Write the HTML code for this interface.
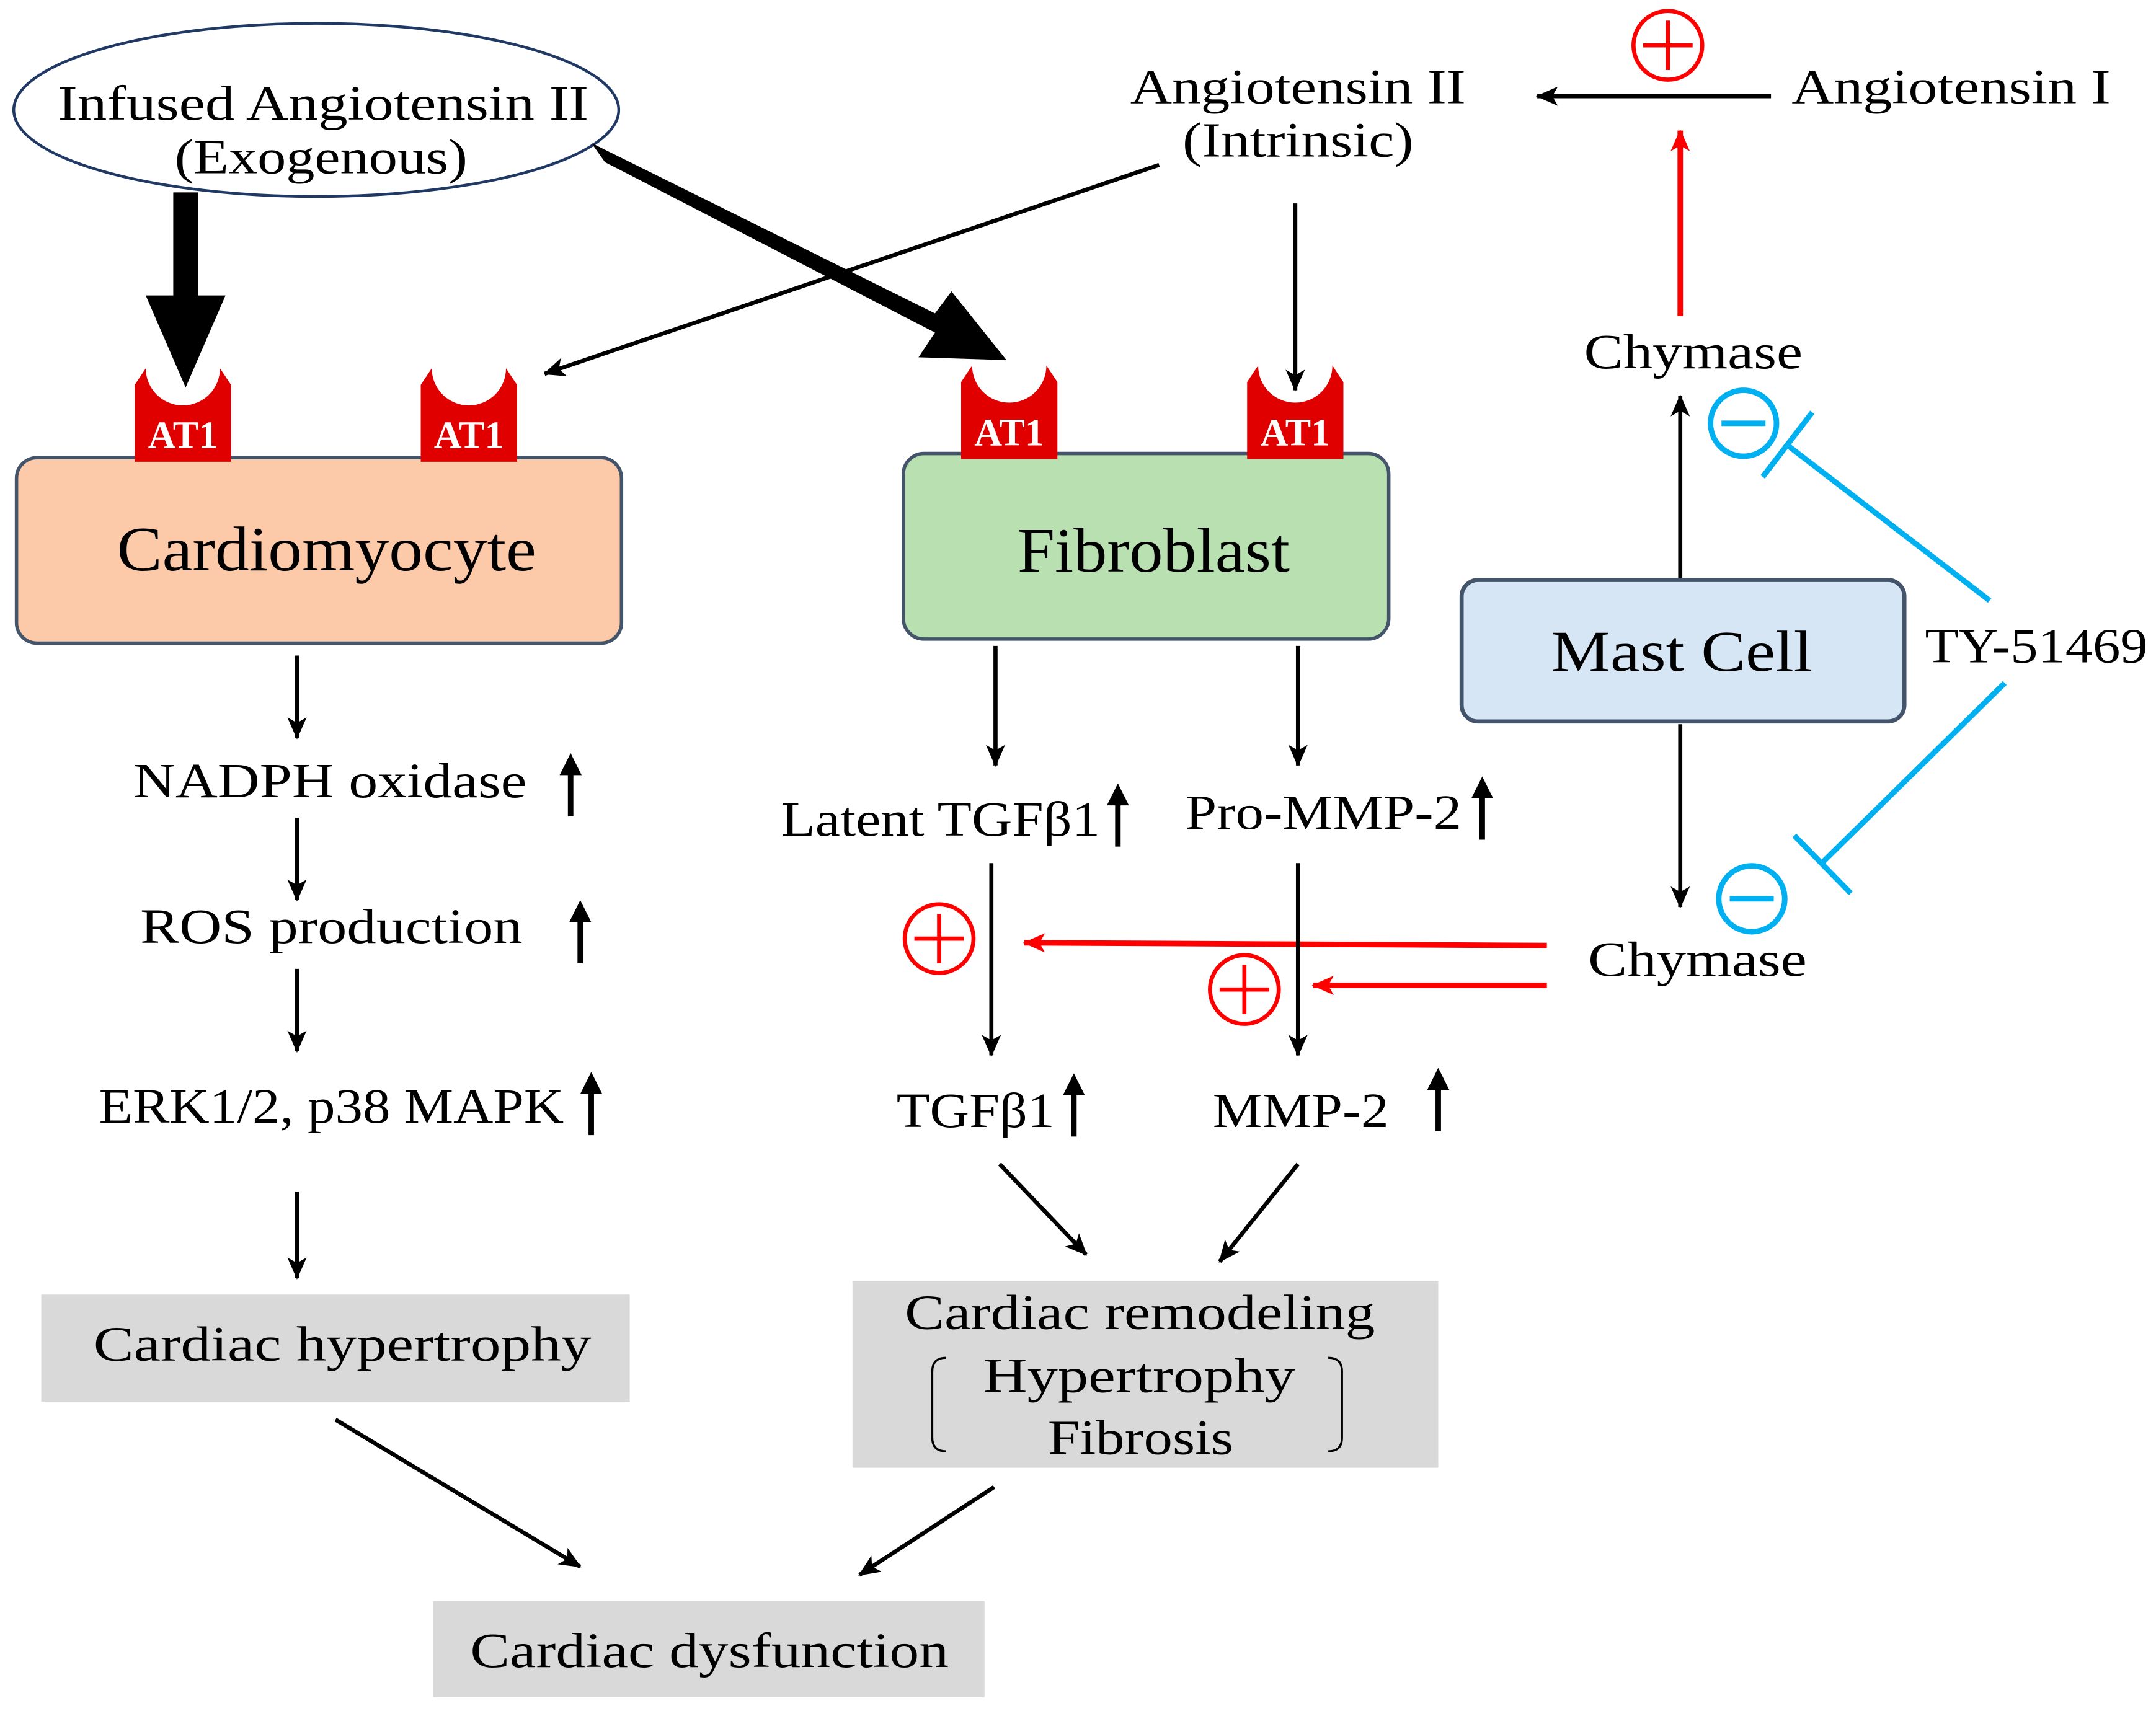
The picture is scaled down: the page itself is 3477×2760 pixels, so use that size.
<!DOCTYPE html>
<html><head><meta charset="utf-8"><style>
html,body{margin:0;padding:0;background:#fff;}
svg{display:block;}
text{font-family:"Liberation Serif",serif;fill:#000;}
</style></head><body>
<svg width="3477" height="2760" viewBox="0 0 1568 1245" preserveAspectRatio="none" xmlns="http://www.w3.org/2000/svg">
<defs>
<marker id="ahb" markerWidth="16" markerHeight="14" refX="15" refY="7" orient="auto" markerUnits="userSpaceOnUse"><path d="M0,0 L16,7 L0,14 L4,7 Z" fill="#000"/></marker>
<marker id="ahr" markerWidth="16" markerHeight="14" refX="15" refY="7" orient="auto" markerUnits="userSpaceOnUse"><path d="M0,0 L16,7 L0,14 L4,7 Z" fill="#f00"/></marker>
<g id="at1">
<path d="M0,70 L0,14 L8,2 A27,27 0 0 0 62,2 L70,14 L70,70 Z" fill="#e00000"/>
<text x="35" y="60" text-anchor="middle" font-size="28" font-weight="bold" style="fill:#fff">AT1</text>
</g>
<g id="up"><line x1="0" y1="46" x2="0" y2="10" stroke="#000" stroke-width="4"/><path d="M-8,16 L0,0 L8,16 Z" fill="#000"/></g>
</defs>
<g font-size="36" lengthAdjust="spacingAndGlyphs">

<ellipse cx="230" cy="80" rx="220" ry="63" fill="#fff" stroke="#1f3864" stroke-width="2"/>
<text x="42" y="87" textLength="386" lengthAdjust="spacingAndGlyphs">Infused Angiotensin II</text>
<text x="127" y="126" textLength="213" lengthAdjust="spacingAndGlyphs">(Exogenous)</text>

<rect x="126" y="140" width="18" height="80" fill="#000"/>
<path d="M106,215 L164,215 L135,282 Z" fill="#000"/>
<path d="M430,104 L440,118 L680,242 L668,260 L732,262 L692,212 L680,228 Z" fill="#000"/>

<text x="822" y="75" textLength="244" lengthAdjust="spacingAndGlyphs">Angiotensin II</text>
<text x="860" y="114" textLength="168" lengthAdjust="spacingAndGlyphs">(Intrinsic)</text>
<line x1="843" y1="120" x2="396" y2="272" stroke="#000" stroke-width="3" marker-end="url(#ahb)"/>
<line x1="942" y1="148" x2="942" y2="284" stroke="#000" stroke-width="3" marker-end="url(#ahb)"/>

<text x="1303" y="75" textLength="232" lengthAdjust="spacingAndGlyphs">Angiotensin I</text>
<line x1="1288" y1="70" x2="1118" y2="70" stroke="#000" stroke-width="3" marker-end="url(#ahb)"/>
<circle cx="1213" cy="33" r="25" fill="#fff" stroke="#f00" stroke-width="3"/>
<line x1="1195" y1="33" x2="1231" y2="33" stroke="#f00" stroke-width="3"/><line x1="1213" y1="15" x2="1213" y2="51" stroke="#f00" stroke-width="3"/>
<line x1="1222" y1="230" x2="1222" y2="95" stroke="#f00" stroke-width="4" marker-end="url(#ahr)"/>

<text x="1152" y="268" textLength="159" lengthAdjust="spacingAndGlyphs">Chymase</text>
<line x1="1222" y1="425" x2="1222" y2="288" stroke="#000" stroke-width="3" marker-end="url(#ahb)"/>

<circle cx="1268" cy="308" r="24" fill="#fff" stroke="#00b0f0" stroke-width="4"/>
<line x1="1252" y1="308" x2="1284" y2="308" stroke="#00b0f0" stroke-width="4"/>
<circle cx="1274" cy="654" r="24" fill="#fff" stroke="#00b0f0" stroke-width="4"/>
<line x1="1258" y1="654" x2="1290" y2="654" stroke="#00b0f0" stroke-width="4"/>

<line x1="1447" y1="437" x2="1300" y2="324" stroke="#00b0f0" stroke-width="4"/>
<line x1="1318" y1="300" x2="1282" y2="347" stroke="#00b0f0" stroke-width="4"/>
<line x1="1458" y1="497" x2="1325" y2="628" stroke="#00b0f0" stroke-width="4"/>
<line x1="1305" y1="608" x2="1346" y2="650" stroke="#00b0f0" stroke-width="4"/>

<text x="1400" y="482" textLength="162" lengthAdjust="spacingAndGlyphs">TY-51469</text>

<rect x="1063" y="422" width="322" height="103" rx="12" fill="#d7e6f5" stroke="#44546a" stroke-width="3"/>
<text x="1128" y="488" font-size="42" textLength="190" lengthAdjust="spacingAndGlyphs">Mast Cell</text>
<line x1="1222" y1="527" x2="1222" y2="660" stroke="#000" stroke-width="3" marker-end="url(#ahb)"/>
<text x="1155" y="710" textLength="159" lengthAdjust="spacingAndGlyphs">Chymase</text>

<line x1="1125" y1="688" x2="745" y2="686" stroke="#f00" stroke-width="4" marker-end="url(#ahr)"/>
<line x1="1125" y1="717" x2="955" y2="717" stroke="#f00" stroke-width="4" marker-end="url(#ahr)"/>
<circle cx="683" cy="683" r="25" fill="#fff" stroke="#f00" stroke-width="3"/>
<line x1="665" y1="683" x2="701" y2="683" stroke="#f00" stroke-width="3"/><line x1="683" y1="665" x2="683" y2="701" stroke="#f00" stroke-width="3"/>
<circle cx="905" cy="720" r="25" fill="#fff" stroke="#f00" stroke-width="3"/>
<line x1="887" y1="720" x2="923" y2="720" stroke="#f00" stroke-width="3"/><line x1="905" y1="702" x2="905" y2="738" stroke="#f00" stroke-width="3"/>

<rect x="12" y="333" width="440" height="135" rx="15" fill="#fcc9a9" stroke="#44546a" stroke-width="2.5"/>
<text x="85" y="415" font-size="46" textLength="305" lengthAdjust="spacingAndGlyphs">Cardiomyocyte</text>
<rect x="657" y="330" width="353" height="135" rx="15" fill="#b9e0b0" stroke="#44546a" stroke-width="2.5"/>
<text x="740" y="416" font-size="46" textLength="198" lengthAdjust="spacingAndGlyphs">Fibroblast</text>

<use href="#at1" x="98" y="266"/>
<use href="#at1" x="306" y="266"/>
<use href="#at1" x="699" y="264"/>
<use href="#at1" x="907" y="264"/>

<line x1="216" y1="477" x2="216" y2="537" stroke="#000" stroke-width="3" marker-end="url(#ahb)"/>
<text x="97" y="580" textLength="286" lengthAdjust="spacingAndGlyphs">NADPH oxidase</text>
<use href="#up" x="415" y="548"/>
<line x1="216" y1="595" x2="216" y2="655" stroke="#000" stroke-width="3" marker-end="url(#ahb)"/>
<text x="102" y="686" textLength="278" lengthAdjust="spacingAndGlyphs">ROS production</text>
<use href="#up" x="422" y="655"/>
<line x1="216" y1="705" x2="216" y2="765" stroke="#000" stroke-width="3" marker-end="url(#ahb)"/>
<text x="72" y="817" textLength="338" lengthAdjust="spacingAndGlyphs">ERK1/2, p38 MAPK</text>
<use href="#up" x="430" y="780"/>
<line x1="216" y1="867" x2="216" y2="930" stroke="#000" stroke-width="3" marker-end="url(#ahb)"/>
<rect x="30" y="942" width="428" height="78" fill="#d9d9d9"/>
<text x="68" y="990" textLength="362" lengthAdjust="spacingAndGlyphs">Cardiac hypertrophy</text>

<line x1="724" y1="470" x2="724" y2="557" stroke="#000" stroke-width="3" marker-end="url(#ahb)"/>
<line x1="944" y1="470" x2="944" y2="557" stroke="#000" stroke-width="3" marker-end="url(#ahb)"/>
<text x="568" y="608" textLength="232" lengthAdjust="spacingAndGlyphs">Latent TGFβ1</text>
<use href="#up" x="813" y="570"/>
<text x="862" y="603" textLength="201" lengthAdjust="spacingAndGlyphs">Pro-MMP-2</text>
<use href="#up" x="1078" y="565"/>
<line x1="721" y1="628" x2="721" y2="768" stroke="#000" stroke-width="3" marker-end="url(#ahb)"/>
<line x1="944" y1="628" x2="944" y2="768" stroke="#000" stroke-width="3" marker-end="url(#ahb)"/>
<text x="652" y="820" textLength="115" lengthAdjust="spacingAndGlyphs">TGFβ1</text>
<use href="#up" x="781" y="781"/>
<text x="882" y="820" textLength="128" lengthAdjust="spacingAndGlyphs">MMP-2</text>
<use href="#up" x="1046" y="777"/>
<line x1="727" y1="847" x2="790" y2="913" stroke="#000" stroke-width="3" marker-end="url(#ahb)"/>
<line x1="944" y1="847" x2="887" y2="918" stroke="#000" stroke-width="3" marker-end="url(#ahb)"/>
<rect x="620" y="932" width="426" height="136" fill="#d9d9d9"/>
<text x="658" y="967" textLength="342" lengthAdjust="spacingAndGlyphs">Cardiac remodeling</text>
<text x="715" y="1013" textLength="227" lengthAdjust="spacingAndGlyphs">Hypertrophy</text>
<text x="762" y="1058" textLength="135" lengthAdjust="spacingAndGlyphs">Fibrosis</text>
<path d="M688,988 Q678,988 678,998 L678,1046 Q678,1056 688,1056" fill="none" stroke="#000" stroke-width="1.5"/>
<path d="M966,988 Q976,988 976,998 L976,1046 Q976,1056 966,1056" fill="none" stroke="#000" stroke-width="1.5"/>

<line x1="244" y1="1033" x2="422" y2="1140" stroke="#000" stroke-width="3" marker-end="url(#ahb)"/>
<line x1="723" y1="1082" x2="625" y2="1146" stroke="#000" stroke-width="3" marker-end="url(#ahb)"/>
<rect x="315" y="1165" width="401" height="70" fill="#d9d9d9"/>
<text x="342" y="1213" textLength="348" lengthAdjust="spacingAndGlyphs">Cardiac dysfunction</text>
</g>
</svg>
</body></html>
